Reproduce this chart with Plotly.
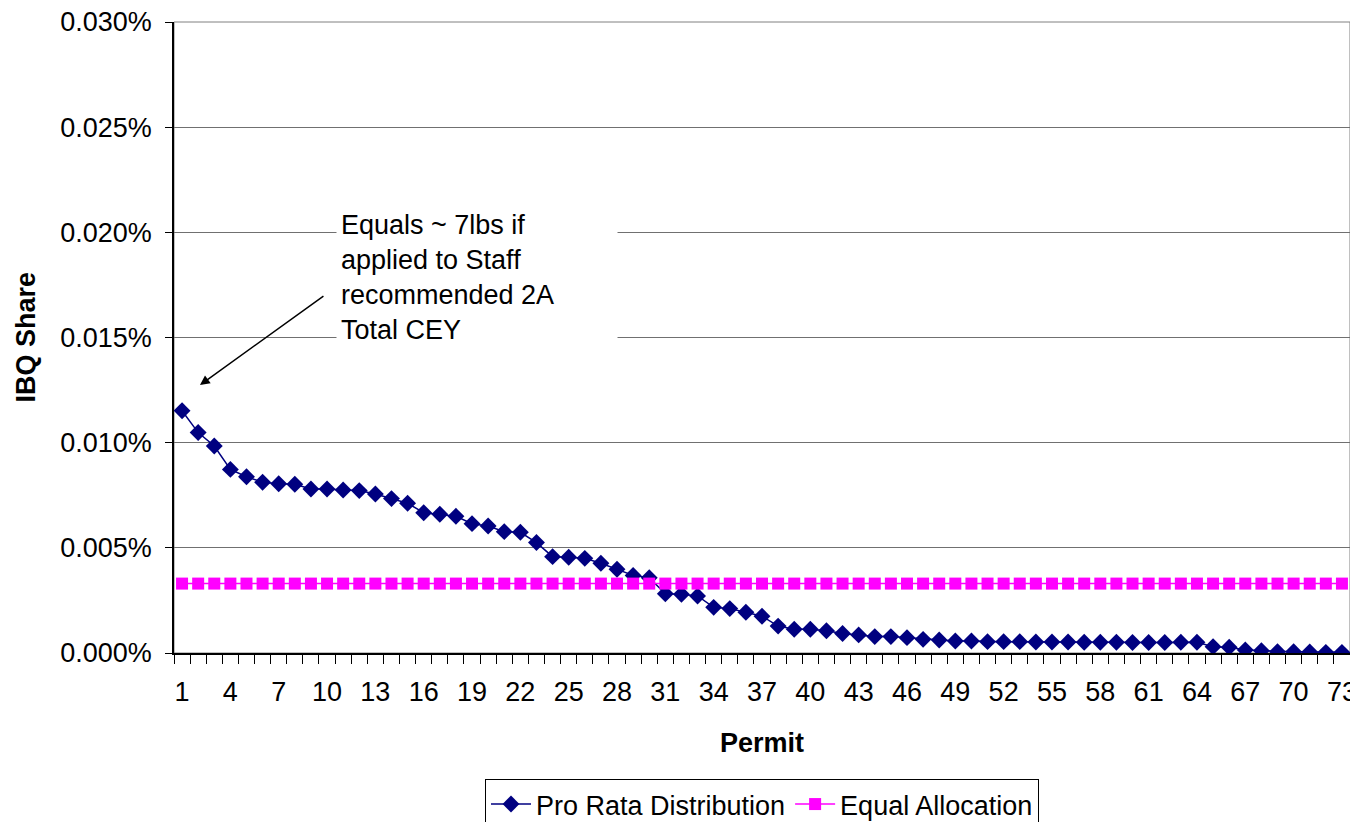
import plotly.graph_objects as go

permits = list(range(1, 74))
pro_rata = [0.01152, 0.01048, 0.00984, 0.00873, 0.00838, 0.00812, 0.00805, 0.00802, 0.00780, 0.00780,
            0.00775, 0.00772, 0.00756, 0.00734, 0.00712, 0.00667, 0.00660, 0.00650, 0.00615, 0.00604,
            0.00577, 0.00574, 0.00525, 0.00458, 0.00455, 0.00450, 0.00427, 0.00398, 0.00369, 0.00358,
            0.00282, 0.00279, 0.00271, 0.00217, 0.00211, 0.00194, 0.00175, 0.00128, 0.00113, 0.00113,
            0.00106, 0.00093, 0.00086, 0.00078, 0.00078, 0.00073, 0.00065, 0.00062, 0.00057, 0.00057,
            0.00054, 0.00054, 0.00054, 0.00052, 0.00052, 0.00052, 0.00051, 0.00051, 0.00051, 0.00050,
            0.00050, 0.00050, 0.00051, 0.00051, 0.00030, 0.00027, 0.00014, 0.00011, 0.00006, 0.00006,
            0.00005, 0.00003, 0.00003]
equal_value = 0.00330
equal_alloc = [equal_value] * len(permits)
x_tick_labels = list(range(1, 74, 3))
y_tick_values = [0.000, 0.005, 0.010, 0.015, 0.020, 0.025, 0.030]

FONT = "Liberation Sans, Arial, sans-serif"
FS = 27

fig = go.Figure()
fig.add_trace(go.Scatter(
    x=permits, y=pro_rata, name="Pro Rata Distribution", mode="lines+markers",
    line=dict(color="#000080", width=1.5),
    marker=dict(symbol="diamond", size=13, color="#000080"),
))
fig.add_trace(go.Scatter(
    x=permits, y=equal_alloc, name="Equal Allocation", mode="lines+markers",
    line=dict(color="#FF00FF", width=1.5),
    marker=dict(symbol="square", size=12, color="#FF00FF"),
))

fig.update_layout(
    width=1350, height=814,
    margin=dict(l=166, r=8, t=14, b=169, autoexpand=False),
    paper_bgcolor="white", plot_bgcolor="white",
    font=dict(family=FONT, size=FS, color="black"),
    showlegend=True,
    legend=dict(orientation="h", x=0.5, xanchor="center", y=-0.1997, yanchor="top",
                bordercolor="black", borderwidth=1, font=dict(size=FS),
                itemwidth=40, tracegroupgap=0),
    xaxis=dict(
        range=[0.5, 73.5], tickmode="array", tickvals=x_tick_labels,
        ticktext=[str(v) for v in x_tick_labels],
        ticks="", showgrid=False, zeroline=False, automargin=False,
        showline=True, linecolor="black", linewidth=1.5,
        ticklabelstandoff=14, ticklabeloverflow="allow",
        minor=dict(tick0=0.5, dtick=1, ticks="outside", ticklen=9, tickcolor="black", tickwidth=1, showgrid=False),
    ),
    yaxis=dict(
        range=[0, 0.030], tickmode="array", tickvals=y_tick_values,
        ticktext=[f"{v:.3f}%" for v in y_tick_values],
        ticks="outside", ticklen=7, tickcolor="black", automargin=False,
        ticklabeloverflow="allow", ticklabelstandoff=8,
        showgrid=True, gridcolor="#707070", gridwidth=1, zeroline=False,
        showline=True, linecolor="black", linewidth=1.5,
    ),
)

# plot-area border (gray)
fig.add_shape(type="rect", xref="paper", yref="paper", x0=0, x1=1, y0=0, y1=1,
              line=dict(color="#808080", width=1), layer="below")

# axis titles
fig.add_annotation(xref="paper", yref="paper", x=0.5, y=-0.142, text="<b>Permit</b>",
                   showarrow=False, font=dict(size=FS), xanchor="center", yanchor="middle")
fig.add_annotation(xref="paper", yref="paper", x=-(174 - 25) / 1176, y=0.5, text="<b>IBQ Share</b>",
                   showarrow=False, textangle=-90, font=dict(size=FS), xanchor="center", yanchor="middle")

# callout text box
fig.add_annotation(xref="paper", yref="paper", x=(336 - 174) / 1176, y=(653 - 277) / 631,
                   xanchor="left", yanchor="middle", align="left", width=272, borderpad=4,
                   text="Equals ~ 7lbs if<br>applied to Staff<br>recommended 2A<br>Total CEY",
                   showarrow=False, bgcolor="white", font=dict(size=FS))
# arrow
fig.add_annotation(x=2.11, y=0.01274, xref="x", yref="y", text="", showarrow=True,
                   ax=125, ay=-90, arrowhead=2, arrowsize=1.3, arrowwidth=1.5, arrowcolor="black")

fig.write_html("out.html")
